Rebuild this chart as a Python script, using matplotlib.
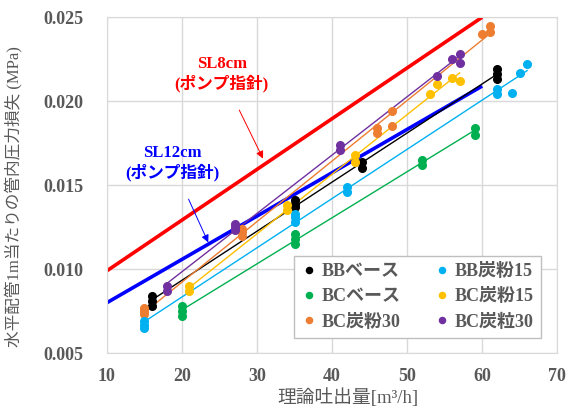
import numpy as np
import matplotlib
matplotlib.use("Agg")
import matplotlib.pyplot as plt

fontList = ['Liberation Serif', 'Noto Sans CJK JP', 'DejaVu Sans']
plt.rcParams['font.family'] = fontList

grayText = "#595959"
gridColor = "#d9d9d9"

# 測定データ (理論吐出量 m3/h, 管内圧力損失 MPa)
bbBaseX = [16, 16, 16, 35, 35, 35, 44, 44, 62, 62, 62]
bbBaseY = [0.0084, 0.0081, 0.0078, 0.0141, 0.0139, 0.0137, 0.0164, 0.0160, 0.0219, 0.0216, 0.0213]

bbCoal15X = [15, 15, 15, 35, 35, 35, 42, 42, 62, 62, 64, 65, 66]
bbCoal15Y = [0.0069, 0.0067, 0.0065, 0.0133, 0.0131, 0.0128, 0.0149, 0.0146, 0.0207, 0.0204, 0.0205, 0.0217, 0.0222]

bcBaseX = [20, 20, 20, 35, 35, 35, 52, 52, 59, 59]
bcBaseY = [0.0078, 0.0075, 0.0072, 0.0121, 0.0118, 0.0115, 0.0165, 0.0162, 0.0184, 0.0180]

bcCoal15X = [21, 21, 34, 34, 43, 43, 53, 54, 56, 57]
bcCoal15Y = [0.0090, 0.0087, 0.0138, 0.0135, 0.0168, 0.0164, 0.0204, 0.0210, 0.0214, 0.0212]

bcCoal30X = [15, 15, 15, 28, 28, 28, 46, 46, 48, 48, 60, 61, 61]
bcCoal30Y = [0.0077, 0.0075, 0.0073, 0.0124, 0.0122, 0.0120, 0.0184, 0.0181, 0.0194, 0.0185, 0.0240, 0.0245, 0.0241]

bcGrain30X = [18, 18, 27, 27, 27, 41, 41, 54, 56, 57, 57]
bcGrain30Y = [0.0090, 0.0087, 0.0127, 0.0125, 0.0123, 0.0174, 0.0171, 0.0215, 0.0225, 0.0228, 0.0223]

# ポンプ指針
sl8X = [10, 60]
sl8Y = [0.0099, 0.0250]
sl12X = [10, 60]
sl12Y = [0.0080, 0.0209]

# legend is column-major with ncol=2, so order: left column then right column
seriesList = [
    ("BBベース", bbBaseX, bbBaseY, "#000000"),
    ("BCベース", bcBaseX, bcBaseY, "#00B050"),
    ("BC炭粉30", bcCoal30X, bcCoal30Y, "#ED7D31"),
    ("BB炭粉15", bbCoal15X, bbCoal15Y, "#00B0F0"),
    ("BC炭粉15", bcCoal15X, bcCoal15Y, "#FFC000"),
    ("BC炭粒30", bcGrain30X, bcGrain30Y, "#7030A0"),
]

fig = plt.figure(figsize=(5.75, 4.11), dpi=100)
ax = fig.add_axes([0.186, 0.141, 0.783, 0.817])

ax.plot(sl8X, sl8Y, color="#FF0000", lw=2.6, zorder=2, solid_capstyle='butt')
ax.plot(sl12X, sl12Y, color="#0000FF", lw=2.6, zorder=2, solid_capstyle='butt')

for label, xs, ys, color in seriesList:
    ax.plot(xs, ys, 'o', color=color, ms=5.5, label=label, zorder=4)
    coef = np.polyfit(xs, ys, 1)
    lineX = np.array([min(xs), max(xs)])
    ax.plot(lineX, np.polyval(coef, lineX), color=color, lw=1.0, zorder=3)

ax.set_xlim(10, 70)
ax.set_ylim(0.005, 0.025)
ax.set_xticks(range(10, 71, 10))
ax.set_yticks([0.005, 0.010, 0.015, 0.020, 0.025])
ax.set_yticklabels(["0.005", "0.010", "0.015", "0.020", "0.025"])
ax.grid(True, color=gridColor, lw=1.0, zorder=0)
ax.set_axisbelow(True)
for spine in ax.spines.values():
    spine.set_color(gridColor)
ax.tick_params(axis='both', length=0, labelsize=13, labelcolor=grayText)
ax.tick_params(axis='y', pad=17)
ax.tick_params(axis='x', pad=11)
for tl in ax.get_xticklabels() + ax.get_yticklabels():
    tl.set_fontweight('bold')

ax.set_ylabel("水平配管1m当たりの管内圧力損失 (MPa)", fontsize=12, color=grayText)
ax.yaxis.set_label_coords(-0.187, 0.467)
ax.set_xlabel("理論吐出量[m³/h]", fontsize=13.5, color=grayText)
ax.xaxis.set_label_coords(0.536, -0.104)

ax.annotate("SL8cm\n(ポンプ指針)", xy=(30.8, 0.01658), xytext=(25.3, 0.0216),
            ha='center', va='center', multialignment='center',
            fontsize=12, fontweight='bold', color="#FF0000", linespacing=1.15,
            arrowprops=dict(arrowstyle='-|>', color="#FF0000", lw=0.7,
                            mutation_scale=11, shrinkA=12, shrinkB=0))
ax.annotate("SL12cm\n(ポンプ指針)", xy=(23.5, 0.01159), xytext=(18.7, 0.0163),
            ha='center', va='center', multialignment='center',
            fontsize=12, fontweight='bold', color="#0000FF", linespacing=1.15,
            arrowprops=dict(arrowstyle='-|>', color="#0000FF", lw=0.7,
                            mutation_scale=11, shrinkA=12, shrinkB=0))

leg = ax.legend(loc='lower right', bbox_to_anchor=(0.984, 0.018), ncol=2,
                fancybox=False, framealpha=1, edgecolor="#bfbfbf",
                prop=dict(family=fontList, weight='bold', size=13),
                markerscale=0.8, handlelength=0.8, handletextpad=0.3,
                columnspacing=1.9, borderpad=0.4, labelspacing=0.45)
for txt in leg.get_texts():
    txt.set_color(grayText)

fig.savefig("out.png", dpi=100)
